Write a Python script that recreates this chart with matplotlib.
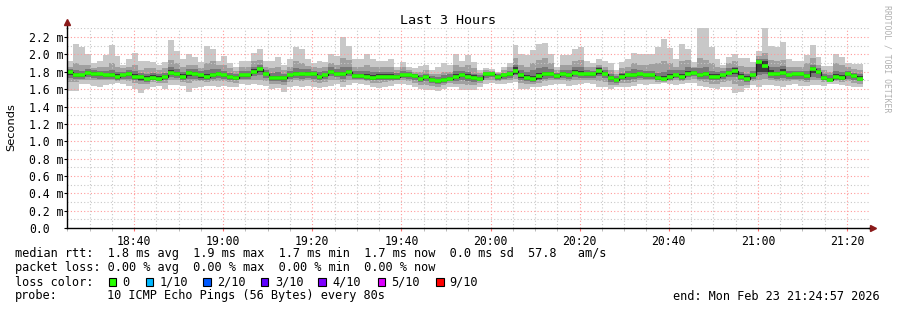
import numpy as np
import matplotlib
matplotlib.use("Agg")
import matplotlib.pyplot as plt
from matplotlib.patches import Rectangle
from matplotlib.ticker import MultipleLocator, FixedLocator

# ------------------------
# data (ms), one column per 80 s step, 18:24:57 -> 21:24:57
# ------------------------
start_s = 18 * 3600 + 24 * 60 + 57
end_s = start_s + 3 * 3600
step_s = 80

median = [
    1.80, 1.76, 1.76, 1.79, 1.78, 1.77, 1.76, 1.76, 1.74, 1.76, 1.78, 1.74, 1.74, 1.72, 1.73, 1.72, 1.74, 1.79, 1.78, 1.74, 1.79, 1.78, 1.76, 1.74,
    1.76, 1.78, 1.76, 1.74, 1.73, 1.76, 1.76, 1.80, 1.83, 1.78, 1.73, 1.73, 1.73, 1.76, 1.78, 1.77, 1.78, 1.77, 1.74, 1.76, 1.80, 1.78, 1.77, 1.80,
    1.75, 1.75, 1.74, 1.73, 1.74, 1.74, 1.74, 1.74, 1.76, 1.76, 1.75, 1.72, 1.74, 1.71, 1.69, 1.71, 1.72, 1.74, 1.76, 1.74, 1.73, 1.72, 1.77,
    1.77, 1.74, 1.76, 1.77, 1.81, 1.76, 1.73, 1.72, 1.75, 1.77, 1.77, 1.75, 1.77, 1.76, 1.79, 1.78, 1.77, 1.77, 1.81, 1.78, 1.73, 1.71, 1.74, 1.76, 1.76,
    1.77, 1.76, 1.76, 1.73, 1.72, 1.74, 1.76, 1.74, 1.78, 1.79, 1.76, 1.77, 1.74, 1.74, 1.76, 1.79, 1.81, 1.74, 1.72, 1.76, 1.91, 1.87,
    1.78, 1.77, 1.79, 1.76, 1.77, 1.77, 1.75, 1.83, 1.80, 1.73, 1.71, 1.74, 1.73, 1.77, 1.75, 1.72,
]

# outer smoke (min / max ping)
smoke_hi1 = [
    1.92, 2.12, 2.09, 2.00, 1.90, 1.93, 1.99, 2.11, 1.98, 1.88, 1.95, 2.02, 1.92, 1.93, 1.91, 1.88, 1.91, 2.17, 2.04, 1.95, 2.01, 1.97, 1.91, 2.10,
    2.06, 1.93, 1.98, 1.90, 1.85, 1.92, 1.92, 2.02, 2.06, 1.92, 1.93, 1.97, 1.88, 1.95, 2.09, 2.06, 1.95, 1.90, 1.93, 1.91, 2.00, 1.98, 2.20, 2.10,
    1.95, 1.95, 2.00, 1.95, 1.93, 1.93, 1.95, 1.86, 1.91, 1.86, 1.84, 1.87, 1.88, 1.82, 1.85, 1.90, 1.88, 2.01, 1.93, 1.99, 1.91, 1.82, 1.84,
    1.83, 1.80, 1.86, 1.90, 2.11, 2.00, 1.99, 2.05, 2.12, 2.13, 2.01, 1.85, 1.99, 1.99, 2.06, 2.09, 1.92, 1.90, 1.95, 1.92, 1.90, 1.82, 1.91, 1.95, 2.02,
    2.01, 2.00, 2.01, 2.09, 2.18, 2.07, 1.95, 2.12, 2.06, 1.91, 2.30, 2.30, 2.09, 1.95, 1.88, 1.97, 2.00, 1.96, 1.96, 1.91, 2.04, 2.30,
    2.10, 2.09, 2.14, 1.95, 1.92, 1.92, 1.99, 2.11, 1.97, 1.87, 1.87, 2.01, 1.97, 1.90, 1.89, 1.89,
]
smoke_lo1 = [
    1.58, 1.58, 1.66, 1.66, 1.64, 1.63, 1.65, 1.66, 1.67, 1.66, 1.64, 1.60, 1.56, 1.60, 1.63, 1.64, 1.60, 1.65, 1.65, 1.64, 1.57, 1.61, 1.63, 1.64,
    1.64, 1.63, 1.64, 1.63, 1.62, 1.66, 1.65, 1.66, 1.65, 1.64, 1.60, 1.61, 1.57, 1.62, 1.64, 1.63, 1.64, 1.62, 1.61, 1.62, 1.64, 1.66, 1.62, 1.65,
    1.67, 1.66, 1.65, 1.62, 1.61, 1.62, 1.64, 1.66, 1.66, 1.65, 1.62, 1.60, 1.59, 1.59, 1.58, 1.60, 1.63, 1.62, 1.59, 1.59, 1.59, 1.62, 1.66,
    1.67, 1.66, 1.66, 1.67, 1.68, 1.60, 1.60, 1.62, 1.62, 1.64, 1.65, 1.66, 1.66, 1.64, 1.65, 1.66, 1.67, 1.66, 1.63, 1.63, 1.60, 1.62, 1.63, 1.63, 1.64,
    1.66, 1.65, 1.66, 1.66, 1.67, 1.66, 1.65, 1.66, 1.67, 1.67, 1.64, 1.62, 1.61, 1.60, 1.63, 1.63, 1.56, 1.57, 1.61, 1.65, 1.63, 1.65,
    1.65, 1.64, 1.63, 1.65, 1.66, 1.64, 1.64, 1.65, 1.65, 1.64, 1.66, 1.66, 1.65, 1.64, 1.62, 1.62,
]

# 2nd / 9th ping
smoke_hi2 = [
    1.86, 1.90, 1.88, 1.88, 1.84, 1.85, 1.86, 1.90, 1.86, 1.84, 1.86, 1.88, 1.82, 1.84, 1.84, 1.82, 1.84, 1.94, 1.90, 1.85, 1.88, 1.88, 1.84, 1.90,
    1.92, 1.88, 1.88, 1.84, 1.81, 1.86, 1.86, 1.92, 1.94, 1.86, 1.84, 1.86, 1.82, 1.86, 1.92, 1.90, 1.87, 1.85, 1.84, 1.85, 1.90, 1.88, 1.96, 1.94,
    1.86, 1.86, 1.88, 1.86, 1.86, 1.86, 1.86, 1.82, 1.85, 1.82, 1.80, 1.80, 1.82, 1.78, 1.78, 1.80, 1.80, 1.88, 1.86, 1.88, 1.84, 1.79, 1.82,
    1.81, 1.79, 1.82, 1.85, 1.96, 1.88, 1.86, 1.90, 1.94, 1.96, 1.90, 1.82, 1.88, 1.88, 1.93, 1.94, 1.86, 1.85, 1.88, 1.86, 1.82, 1.78, 1.84, 1.86, 1.90,
    1.88, 1.88, 1.89, 1.90, 1.92, 1.90, 1.86, 1.92, 1.94, 1.86, 1.96, 1.94, 1.90, 1.86, 1.84, 1.90, 1.92, 1.87, 1.86, 1.86, 1.98, 2.02,
    1.94, 1.92, 1.94, 1.86, 1.86, 1.86, 1.90, 1.96, 1.88, 1.82, 1.80, 1.90, 1.88, 1.85, 1.83, 1.82,
]
smoke_lo2 = [
    1.68, 1.68, 1.70, 1.71, 1.70, 1.70, 1.70, 1.70, 1.69, 1.70, 1.69, 1.67, 1.66, 1.66, 1.68, 1.67, 1.67, 1.70, 1.70, 1.68, 1.67, 1.69, 1.69, 1.68,
    1.69, 1.69, 1.69, 1.68, 1.67, 1.70, 1.70, 1.71, 1.70, 1.69, 1.66, 1.66, 1.65, 1.68, 1.70, 1.69, 1.70, 1.68, 1.67, 1.68, 1.70, 1.71, 1.68, 1.71,
    1.70, 1.70, 1.69, 1.67, 1.67, 1.68, 1.69, 1.70, 1.70, 1.69, 1.67, 1.65, 1.65, 1.64, 1.63, 1.65, 1.67, 1.66, 1.66, 1.65, 1.65, 1.67, 1.70,
    1.70, 1.69, 1.70, 1.71, 1.72, 1.67, 1.66, 1.66, 1.67, 1.69, 1.70, 1.70, 1.70, 1.69, 1.70, 1.70, 1.71, 1.70, 1.69, 1.68, 1.65, 1.65, 1.67, 1.67, 1.68,
    1.70, 1.70, 1.70, 1.68, 1.68, 1.69, 1.70, 1.69, 1.71, 1.72, 1.69, 1.68, 1.66, 1.66, 1.68, 1.69, 1.66, 1.64, 1.65, 1.69, 1.70, 1.72,
    1.70, 1.69, 1.69, 1.69, 1.70, 1.69, 1.68, 1.70, 1.70, 1.68, 1.68, 1.69, 1.68, 1.69, 1.67, 1.66,
]

# 3rd / 8th ping
smoke_hi3 = [
    1.83, 1.82, 1.81, 1.83, 1.82, 1.81, 1.81, 1.82, 1.80, 1.80, 1.82, 1.81, 1.79, 1.78, 1.79, 1.78, 1.79, 1.86, 1.83, 1.80, 1.83, 1.83, 1.81, 1.82,
    1.83, 1.83, 1.81, 1.79, 1.78, 1.81, 1.81, 1.86, 1.88, 1.82, 1.79, 1.80, 1.78, 1.81, 1.84, 1.83, 1.83, 1.81, 1.80, 1.81, 1.85, 1.83, 1.85, 1.86,
    1.81, 1.81, 1.81, 1.80, 1.80, 1.80, 1.80, 1.79, 1.81, 1.80, 1.78, 1.76, 1.78, 1.75, 1.74, 1.76, 1.77, 1.81, 1.81, 1.80, 1.78, 1.76, 1.80,
    1.80, 1.77, 1.79, 1.81, 1.88, 1.82, 1.80, 1.82, 1.84, 1.85, 1.83, 1.79, 1.82, 1.82, 1.85, 1.85, 1.82, 1.81, 1.86, 1.82, 1.78, 1.75, 1.79, 1.81, 1.83,
    1.82, 1.81, 1.81, 1.79, 1.80, 1.82, 1.82, 1.82, 1.85, 1.84, 1.84, 1.85, 1.81, 1.80, 1.81, 1.84, 1.86, 1.80, 1.78, 1.81, 1.95, 1.95,
    1.86, 1.85, 1.87, 1.81, 1.81, 1.81, 1.81, 1.88, 1.84, 1.78, 1.76, 1.81, 1.80, 1.81, 1.79, 1.77,
]
smoke_lo3 = [
    1.73, 1.72, 1.72, 1.74, 1.73, 1.72, 1.72, 1.72, 1.71, 1.72, 1.72, 1.70, 1.69, 1.68, 1.70, 1.69, 1.70, 1.74, 1.73, 1.71, 1.72, 1.72, 1.71, 1.70,
    1.72, 1.73, 1.72, 1.71, 1.70, 1.72, 1.72, 1.75, 1.76, 1.73, 1.69, 1.69, 1.68, 1.72, 1.73, 1.72, 1.73, 1.72, 1.70, 1.72, 1.75, 1.74, 1.72, 1.75,
    1.72, 1.72, 1.71, 1.70, 1.70, 1.71, 1.71, 1.71, 1.73, 1.72, 1.71, 1.68, 1.69, 1.67, 1.66, 1.67, 1.69, 1.69, 1.70, 1.69, 1.68, 1.69, 1.73,
    1.74, 1.71, 1.72, 1.73, 1.76, 1.71, 1.69, 1.68, 1.70, 1.72, 1.73, 1.72, 1.73, 1.72, 1.74, 1.73, 1.73, 1.73, 1.75, 1.73, 1.68, 1.67, 1.70, 1.71, 1.72,
    1.73, 1.72, 1.72, 1.70, 1.70, 1.71, 1.73, 1.71, 1.74, 1.75, 1.72, 1.72, 1.70, 1.70, 1.72, 1.74, 1.74, 1.70, 1.68, 1.72, 1.76, 1.78,
    1.73, 1.72, 1.73, 1.72, 1.72, 1.72, 1.71, 1.74, 1.73, 1.70, 1.69, 1.71, 1.70, 1.72, 1.70, 1.69,
]

# innermost pings around the median
smoke_hi4 = [
    1.82, 1.79, 1.78, 1.81, 1.80, 1.79, 1.78, 1.79, 1.77, 1.78, 1.80, 1.77, 1.76, 1.75, 1.76, 1.75, 1.76, 1.82, 1.80, 1.77, 1.81, 1.80, 1.78, 1.77,
    1.79, 1.80, 1.78, 1.76, 1.75, 1.78, 1.78, 1.83, 1.85, 1.80, 1.75, 1.75, 1.75, 1.78, 1.80, 1.79, 1.80, 1.79, 1.76, 1.78, 1.82, 1.80, 1.80, 1.82,
    1.78, 1.78, 1.77, 1.76, 1.77, 1.77, 1.77, 1.76, 1.78, 1.78, 1.77, 1.74, 1.76, 1.73, 1.71, 1.73, 1.74, 1.77, 1.79, 1.77, 1.76, 1.74, 1.79,
    1.79, 1.76, 1.78, 1.79, 1.85, 1.79, 1.76, 1.75, 1.79, 1.80, 1.80, 1.77, 1.80, 1.79, 1.82, 1.81, 1.79, 1.79, 1.84, 1.80, 1.75, 1.73, 1.77, 1.78, 1.79,
    1.79, 1.78, 1.78, 1.75, 1.75, 1.77, 1.78, 1.77, 1.81, 1.81, 1.79, 1.80, 1.77, 1.77, 1.78, 1.81, 1.84, 1.77, 1.75, 1.78, 1.93, 1.92,
    1.82, 1.80, 1.83, 1.78, 1.79, 1.79, 1.78, 1.86, 1.82, 1.75, 1.73, 1.77, 1.76, 1.79, 1.77, 1.75,
]
smoke_lo4 = [
    1.76, 1.74, 1.74, 1.76, 1.75, 1.75, 1.74, 1.74, 1.72, 1.74, 1.75, 1.72, 1.71, 1.70, 1.71, 1.70, 1.72, 1.76, 1.75, 1.72, 1.75, 1.75, 1.73, 1.72,
    1.74, 1.76, 1.74, 1.72, 1.71, 1.74, 1.74, 1.78, 1.80, 1.76, 1.71, 1.71, 1.71, 1.74, 1.76, 1.75, 1.76, 1.75, 1.72, 1.74, 1.78, 1.76, 1.75, 1.78,
    1.73, 1.73, 1.72, 1.71, 1.72, 1.72, 1.72, 1.72, 1.74, 1.74, 1.73, 1.70, 1.72, 1.69, 1.67, 1.69, 1.70, 1.72, 1.74, 1.72, 1.71, 1.70, 1.75,
    1.75, 1.72, 1.74, 1.75, 1.78, 1.73, 1.70, 1.70, 1.72, 1.75, 1.75, 1.73, 1.75, 1.74, 1.77, 1.76, 1.75, 1.75, 1.78, 1.76, 1.71, 1.69, 1.72, 1.74, 1.74,
    1.75, 1.74, 1.74, 1.71, 1.71, 1.72, 1.74, 1.72, 1.76, 1.77, 1.74, 1.75, 1.72, 1.72, 1.74, 1.77, 1.78, 1.72, 1.70, 1.74, 1.80, 1.80,
    1.76, 1.75, 1.76, 1.74, 1.75, 1.75, 1.73, 1.79, 1.77, 1.71, 1.70, 1.72, 1.71, 1.75, 1.73, 1.70,
]

y_ticks = [0.0, 0.2, 0.4, 0.6, 0.8, 1.0, 1.2, 1.4, 1.6, 1.8, 2.0, 2.2]
y_tick_labels = ["0.0", "0.2 m", "0.4 m", "0.6 m", "0.8 m", "1.0 m", "1.2 m",
                 "1.4 m", "1.6 m", "1.8 m", "2.0 m", "2.2 m"]
x_tick_labels = ["18:40", "19:00", "19:20", "19:40", "20:00", "20:20", "20:40", "21:00", "21:20"]

legend_rtt = "median rtt:  1.8 ms avg  1.9 ms max  1.7 ms min  1.7 ms now  0.0 ms sd  57.8   am/s"
legend_loss = "packet loss: 0.00 % avg  0.00 % max  0.00 % min  0.00 % now"
loss_labels = ["0", "1/10", "2/10", "3/10", "4/10", "5/10", "9/10"]
loss_colors = ["#26ff00", "#00b8ff", "#0059ff", "#5e00ff", "#7e00ff", "#dd00ff", "#ff0000"]
probe_text = "10 ICMP Echo Pings (56 Bytes) every 80s"
end_text = "end: Mon Feb 23 21:24:57 2026"

# ------------------------
# figure
# ------------------------
W, H = 897, 310
MONO = "DejaVu Sans Mono"
fig = plt.figure(figsize=(W / 100, H / 100), dpi=100)
fig.patch.set_facecolor("white")


def fx(x):
    return x / W


def fy(y):
    return 1 - y / H


ax_left, ax_right, ax_top, ax_bot = 67, 869, 28.4, 228
ax = fig.add_axes([fx(ax_left), fy(ax_bot), (ax_right - ax_left) / W, (ax_bot - ax_top) / H])

n = len(median)
edges = start_s + step_s * np.arange(n + 1)

ax.stairs(smoke_hi1, edges, baseline=smoke_lo1, fill=True, color="#c8c8c8", lw=0, zorder=1)
ax.stairs(smoke_hi2, edges, baseline=smoke_lo2, fill=True, color="#a0a0a0", lw=0, zorder=2)
ax.stairs(smoke_hi3, edges, baseline=smoke_lo3, fill=True, color="#787878", lw=0, zorder=3)
ax.stairs(smoke_hi4, edges, baseline=smoke_lo4, fill=True, color="#3c3c3c", lw=0, zorder=4)

# median: dark step line plus the loss-coloured band
ax.stairs(median, edges, baseline=None, color="#202020", lw=0.9, zorder=5)
ax.hlines(median, edges[:-1], edges[1:], color=loss_colors[0], lw=2.6, zorder=6)

ax.set_xlim(start_s, end_s)
ax.set_ylim(0, 2.3)

# grid
major_x = [18 * 3600 + 40 * 60 + 1200 * i for i in range(len(x_tick_labels))]
ax.xaxis.set_major_locator(FixedLocator(major_x))
ax.xaxis.set_minor_locator(MultipleLocator(300))
ax.set_xticklabels(x_tick_labels)
ax.yaxis.set_major_locator(FixedLocator(y_ticks))
ax.yaxis.set_minor_locator(MultipleLocator(0.1))
ax.set_yticklabels(y_tick_labels)

ax.grid(which="minor", color="#c8c8c8", lw=0.8, ls=(0, (1, 2)), zorder=7)
ax.grid(which="major", color="#ff9a9a", lw=0.8, ls=(0, (1, 2)), zorder=8)
ax.set_axisbelow(False)

for s in ("top", "right"):
    ax.spines[s].set_visible(False)
for s in ("left", "bottom"):
    ax.spines[s].set_color("#000000")
    ax.spines[s].set_linewidth(1.0)
    ax.spines[s].set_zorder(10)

# axis arrows
ax.plot([0, 0], [1, 1.02], transform=ax.transAxes, color="#000000", lw=1.0, clip_on=False)
ax.plot([1, 1.003], [0, 0], transform=ax.transAxes, color="#000000", lw=1.0, clip_on=False)
ax.plot([0], [1.03], marker="^", ms=4, color="#8b1a1a", transform=ax.transAxes, clip_on=False)
ax.plot([1.005], [0], marker=">", ms=4, color="#8b1a1a", transform=ax.transAxes, clip_on=False)

ax.tick_params(axis="x", which="major", length=2, color="#ff7070", pad=3,
               labelsize=8.3, labelcolor="#000000")
ax.tick_params(axis="x", which="minor", length=2, color="#b0b0b0")
ax.tick_params(axis="y", which="major", length=2, color="#000000", pad=25.5,
               labelsize=8.3, labelcolor="#000000")
ax.tick_params(axis="y", which="minor", length=0)
for lab in ax.get_xticklabels() + ax.get_yticklabels():
    lab.set_family(MONO)
for lab in ax.get_yticklabels():
    lab.set_ha("left")

# ------------------------
# texts
# ------------------------
fig.text(fx(448), fy(20), "Last 3 Hours", family=MONO, fontsize=9.6,
         ha="center", va="center")
fig.text(fx(11), fy(127), "Seconds", family="DejaVu Sans", fontsize=8.2,
         rotation=90, ha="center", va="center")
fig.text(fx(887), fy(5), "RRDTOOL / TOBI OETIKER", family=MONO, fontsize=5.9,
         color="#b0b0b0", rotation=270, ha="center", va="top")

fs_leg = 8.55
fig.text(fx(15), fy(254), legend_rtt, family=MONO, fontsize=fs_leg, va="center")
fig.text(fx(15), fy(268), legend_loss, family=MONO, fontsize=fs_leg, va="center")
fig.text(fx(15), fy(282), "loss color:", family=MONO, fontsize=fs_leg, va="center")
fig.text(fx(15), fy(296), "probe:", family=MONO, fontsize=fs_leg, va="center")
fig.text(fx(107), fy(296), probe_text, family=MONO, fontsize=fs_leg, va="center")
fig.text(fx(880), fy(296), end_text, family=MONO, fontsize=fs_leg, va="center", ha="right")

box_x = [108.7, 145.7, 203, 260.7, 318, 377.7, 436]
label_x = [122.5, 160, 217.5, 275, 332.5, 391.5, 449.5]
for bx, lx, lab, col in zip(box_x, label_x, loss_labels, loss_colors):
    fig.patches.append(Rectangle((fx(bx), fy(286)), 7.5 / W, 8 / H, transform=fig.transFigure,
                                 facecolor=col, edgecolor="#000000", lw=0.8))
    fig.text(fx(lx), fy(282), lab, family=MONO, fontsize=fs_leg, va="center")

fig.savefig("out.png", dpi=100, facecolor="white")
